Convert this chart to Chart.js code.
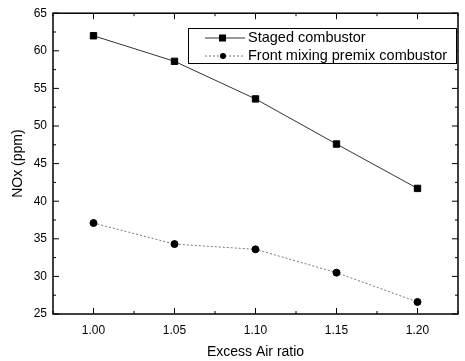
<!DOCTYPE html>
<html>
<head>
<meta charset="utf-8">
<script src="https://cdn.jsdelivr.net/npm/chart.js@4"></script>
<style>
  html, body { margin: 0; padding: 0; background: #fff; }
  canvas { display: block; }
</style>
</head>
<body>
<canvas id="nox" width="465" height="361"></canvas>
<script>
const airRatio = [1.00, 1.05, 1.10, 1.15, 1.20];
const staged = [62.0, 58.6, 53.6, 47.6, 41.7];
const frontMixing = [37.1, 34.3, 33.6, 30.5, 26.6];
const xTicks = [1.00, 1.05, 1.10, 1.15, 1.20];
const xMinor = [0.975, 1.025, 1.075, 1.125, 1.175, 1.225];
const yMinor = [27.5, 32.5, 37.5, 42.5, 47.5, 52.5, 57.5, 62.5];

const FONT = '"Liberation Sans", Arial, sans-serif';

// inward ticks on all four sides + frame
const frame = {
  id: 'frame',
  afterDraw(chart) {
    const c = chart.ctx, a = chart.chartArea;
    const x = chart.scales.x, y = chart.scales.y;
    c.save();
    c.strokeStyle = '#000';
    c.lineWidth = 1.5;
    c.strokeRect(a.left, a.top, a.right - a.left, a.bottom - a.top);
    c.lineWidth = 1;
    function tick(px, len, vertical) {
      c.beginPath();
      if (vertical) {
        c.moveTo(px, a.bottom); c.lineTo(px, a.bottom - len);
        c.moveTo(px, a.top); c.lineTo(px, a.top + len);
      } else {
        c.moveTo(a.left, px); c.lineTo(a.left + len, px);
        c.moveTo(a.right, px); c.lineTo(a.right - len, px);
      }
      c.stroke();
    }
    xTicks.forEach(v => tick(x.getPixelForValue(v), 6, true));
    xMinor.forEach(v => tick(x.getPixelForValue(v), 3, true));
    y.ticks.forEach(t => tick(y.getPixelForValue(t.value), 6, false));
    yMinor.forEach(v => tick(y.getPixelForValue(v), 3, false));
    c.restore();
  }
};

// boxed legend inside the plot
const boxLegend = {
  id: 'boxLegend',
  afterDraw(chart) {
    const c = chart.ctx;
    const bx = 188, by = 28, bw = 268, bh = 35;
    c.save();
    c.fillStyle = '#fff';
    c.fillRect(bx, by, bw, bh);
    c.strokeStyle = '#000';
    c.lineWidth = 1;
    c.strokeRect(bx + 0.5, by + 0.5, bw, bh);
    c.font = '14.5px ' + FONT;
    c.textBaseline = 'middle';
    chart.data.datasets.forEach((ds, i) => {
      const ly = by + 10 + i * 18;
      c.strokeStyle = ds.borderColor;
      c.setLineDash(ds.borderDash || []);
      c.beginPath(); c.moveTo(bx + 17, ly); c.lineTo(bx + 57, ly); c.stroke();
      c.setLineDash([]);
      c.fillStyle = '#000';
      if (ds.pointStyle === 'rect') {
        c.fillRect(bx + 31, ly - 3.5, 7, 7);
      } else {
        c.beginPath(); c.arc(bx + 35, ly, 3, 0, Math.PI * 2); c.fill();
      }
      c.fillText(ds.label, bx + 60, ly);
    });
    c.restore();
  }
};

new Chart(document.getElementById('nox').getContext('2d'), {
  type: 'line',
  data: {
    datasets: [{
      label: 'Staged combustor',
      data: airRatio.map((v, i) => ({ x: v, y: staged[i] })),
      borderColor: '#333',
      borderWidth: 1,
      pointStyle: 'rect',
      pointRadius: 4.5,
      pointBackgroundColor: '#000',
      pointBorderColor: '#000',
      tension: 0
    }, {
      label: 'Front mixing premix combustor',
      data: airRatio.map((v, i) => ({ x: v, y: frontMixing[i] })),
      borderColor: '#777',
      borderWidth: 1,
      borderDash: [2, 2],
      pointStyle: 'circle',
      pointRadius: 3.5,
      pointBackgroundColor: '#000',
      pointBorderColor: '#000',
      tension: 0
    }]
  },
  options: {
    responsive: false,
    animation: false,
    layout: { padding: { left: 0, top: 12, right: 7, bottom: 0 } },
    plugins: { legend: { display: false }, tooltip: { enabled: false } },
    scales: {
      x: {
        type: 'linear',
        min: 0.975,
        max: 1.225,
        afterBuildTicks: s => { s.ticks = xTicks.map(v => ({ value: v })); },
        afterFit: s => { s.height = 47; },
        grid: { display: false, drawTicks: false },
        border: { display: false },
        ticks: {
          color: '#000',
          font: { family: FONT, size: 12 },
          padding: 9,
          callback: v => v.toFixed(2)
        },
        title: {
          display: true,
          text: 'Excess Air ratio',
          color: '#000',
          font: { family: FONT, size: 14 },
          padding: { top: 4, bottom: 0 }
        }
      },
      y: {
        min: 25,
        max: 65,
        afterFit: s => { s.width = 53; },
        grid: { display: false, drawTicks: false },
        border: { display: false },
        ticks: {
          stepSize: 5,
          color: '#000',
          font: { family: FONT, size: 12 },
          padding: 6
        },
        title: {
          display: true,
          text: 'NOx (ppm)',
          color: '#000',
          font: { family: FONT, size: 14 },
          padding: { top: 10, bottom: 4 }
        }
      }
    }
  },
  plugins: [frame, boxLegend]
});
</script>
</body>
</html>
